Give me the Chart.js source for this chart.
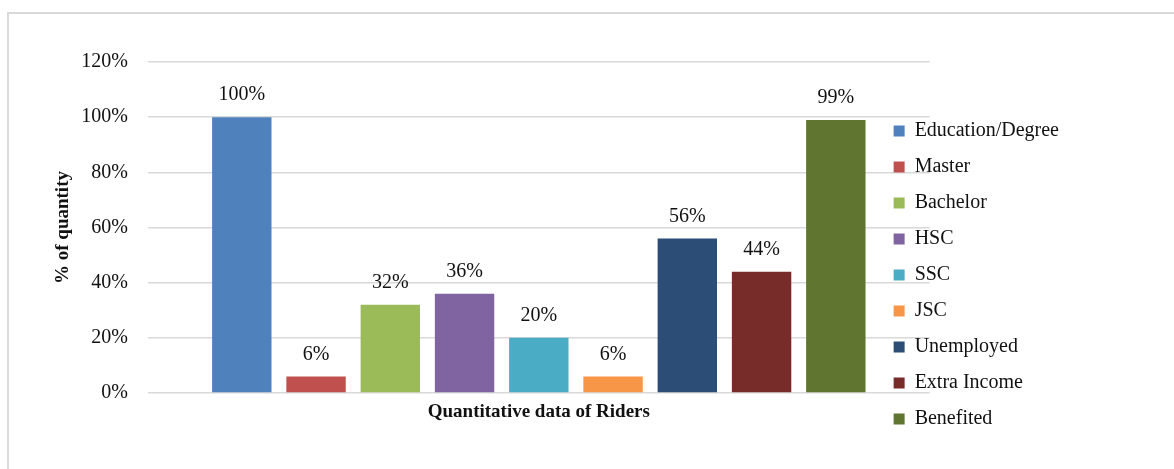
<!DOCTYPE html>
<html>
<head>
<meta charset="utf-8">
<script src="https://cdn.jsdelivr.net/npm/chart.js@4"></script>
<style>
  body { margin: 0; background: #fff; overflow: hidden; }
  #frame {
    position: absolute; left: 7px; top: 12px; width: 1200px; height: 500px;
    border-top: 2px solid #d9d9d9; border-left: 2px solid #d9d9d9;
  }
  #wrap { position: absolute; left: 8px; top: 14px; width: 1158px; height: 455px; }
</style>
</head>
<body>
<div id="frame"></div>
<div id="wrap"><canvas id="myChart"></canvas></div>
<script>
const ctx = document.querySelector('#myChart').getContext('2d');

// Series names and values (%)
const seriesNames = [
    'Education/Degree',
    'Master',
    'Bachelor',
    'HSC',
    'SSC',
    'JSC',
    'Unemployed',
    'Extra Income',
    'Benefited',
];
const seriesValues = [100, 6, 32, 36, 20, 6, 56, 44, 99];
const seriesColors = ['#4F81BD', '#C0504D', '#9BBB59', '#8064A2', '#4BACC6', '#F79646', '#2C4D75', '#772C2A', '#5F7530'];

const categories = [''];
const yTicks = [0, 20, 40, 60, 80, 100, 120];

const fontFamily = '"Liberation Serif", "Times New Roman", serif';

// value labels above bars
const valueLabels = {
    id: 'valueLabels',
    afterDatasetsDraw(chart) {
        const c = chart.ctx;
        c.save();
        c.font = '20px ' + fontFamily;
        c.fillStyle = '#111';
        c.textAlign = 'center';
        c.textBaseline = 'middle';
        chart.data.datasets.forEach((ds, i) => {
            const bar = chart.getDatasetMeta(i).data[0];
            c.fillText(ds.data[0] + '%', bar.x, bar.y - 22);
        });
        c.restore();
    },
};

// legend overlaps the plot area like in the original
const legendShift = {
    id: 'legendShift',
    afterLayout(chart) {
        const l = chart.legend;
        l.left -= 52;
        l.right -= 52;
        const dy = 91 - l.top;
        l.top += dy;
        l.bottom += dy;
    },
};

const data = {
    labels: categories,
    datasets: seriesNames.map((name, i) => ({
        label: name,
        data: [seriesValues[i]],
        backgroundColor: seriesColors[i],
        borderWidth: 0,
    })),
};

const config = {
    type: 'bar',
    data: data,
    plugins: [valueLabels, legendShift],
    options: {
        responsive: true,
        maintainAspectRatio: false,
        animation: false,
        categoryPercentage: 0.855,
        barPercentage: 0.8,
        layout: {
            padding: { left: 38, right: 45, top: 48, bottom: 46 },
        },
        plugins: {
            tooltip: { enabled: false },
            legend: {
                position: 'right',
                align: 'start',
                labels: {
                    boxWidth: 11,
                    boxHeight: 11,
                    padding: 16,
                    color: '#111',
                    font: { family: fontFamily, size: 20 },
                },
            },
        },
        scales: {
            x: {
                grid: { display: false },
                border: { display: false },
                ticks: { display: false },
                afterFit: (axis) => {
                    axis.height = 30;
                },
                title: {
                    display: true,
                    text: 'Quantitative data of Riders',
                    color: '#111',
                    font: { family: fontFamily, size: 19, weight: 'bold' },
                    padding: 0,
                },
            },
            y: {
                min: 0,
                max: 120,
                afterBuildTicks: (axis) => {
                    axis.ticks = yTicks.map((v) => ({ value: v }));
                },
                afterFit: (axis) => {
                    axis.width = 102;
                },
                grid: { color: '#d9d9d9', lineWidth: 1.5, drawTicks: false },
                border: { display: false },
                ticks: {
                    padding: 20,
                    color: '#111',
                    font: { family: fontFamily, size: 20 },
                    callback: function (value) {
                        return value + '%';
                    },
                },
                title: {
                    display: true,
                    text: '% of quantity',
                    color: '#111',
                    font: { family: fontFamily, size: 19, weight: 'bold' },
                    padding: { top: 6, bottom: 6 },
                },
            },
        },
    },
};

const myChart = new Chart(ctx, config);
</script>
</body>
</html>
